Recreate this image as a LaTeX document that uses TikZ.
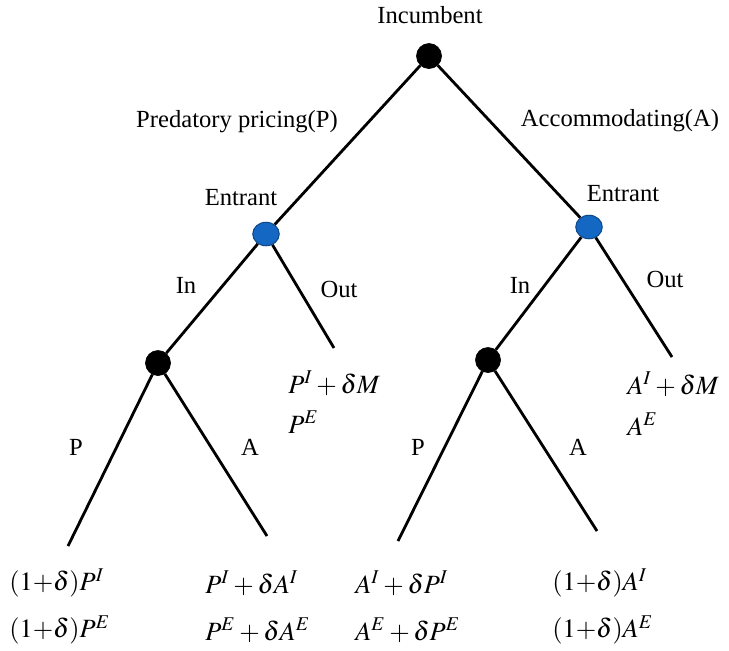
\documentclass[tikz,border=0pt]{standalone}
\usepackage{mathptmx}
\usepackage[no-math]{fontspec}
\setmainfont{Liberation Serif}
\usepackage{tikz}
\usetikzlibrary{positioning,calc,shapes.geometric}
\definecolor{EntrantBlue}{RGB}{20,104,196}
\definecolor{EdgeInk}{RGB}{0,0,0}

\begin{document}
\begin{tikzpicture}[
    x=0.02cm,y=-0.02cm,
    inc/.style={circle,fill=black,draw=black,inner sep=0pt,minimum size=0.5cm},
    ent/.style={ellipse,fill=EntrantBlue,draw=EntrantBlue!70!black,line width=0.6pt,inner sep=0pt,minimum width=0.53cm,minimum height=0.47cm},
    branch/.style={line width=1.6pt,EdgeInk},
    lab/.style={font=\fontsize{14}{16}\selectfont,inner sep=0pt},
    pay/.style={font=\fontsize{15}{17}\selectfont,inner sep=0pt,anchor=west}
  ]
    \useasboundingbox (0,0) rectangle (729,650);

    % decision nodes
    \node[inc] (I0) at (429,56) {};
    \node[ent] (EL) at (266,234) {};
    \node[ent] (ER) at (589,227) {};
    \node[inc] (IL) at (158,363) {};
    \node[inc] (IR) at (488,360) {};

    % free ends
    \coordinate (OL) at (334,348);
    \coordinate (OR) at (672,357);
    \coordinate (LLP) at (68,546);
    \coordinate (LLA) at (267,536);
    \coordinate (RRP) at (398,541);
    \coordinate (RRA) at (597,531);

    \draw[branch] (I0) -- (EL);
    \draw[branch] (I0) -- (ER);
    \draw[branch] (EL) -- (IL);
    \draw[branch] (EL) -- (OL);
    \draw[branch] (ER) -- (IR);
    \draw[branch] (ER) -- (OR);
    \draw[branch] (IL) -- (LLP);
    \draw[branch] (IL) -- (LLA);
    \draw[branch] (IR) -- (RRP);
    \draw[branch] (IR) -- (RRA);

    % player and move labels
    \node[lab] (tI0) at (430,15) {Incumbent};
    \node[lab] (tEL) at (241,198) {Entrant};
    \node[lab] (tER) at (623,194) {Entrant};
    \node[lab] (mP) at (237,122) {Predatory pricing(P)};
    \node[lab] (mA) at (620,121) {Accommodating(A)};
    \node[lab] (inL) at (186,285) {In};
    \node[lab] (outL) at (339,289) {Out};
    \node[lab] (inR) at (520,285) {In};
    \node[lab] (outR) at (665,279) {Out};
    \node[lab] (pL) at (76,447) {P};
    \node[lab] (aL) at (250,447) {A};
    \node[lab] (pR) at (418,447) {P};
    \node[lab] (aR) at (578,447) {A};

    % payoffs
    \node[pay] (pOL1) at (288,383) {$P^I+\delta M$};
    \node[pay] (pOL2) at (288,422) {$P^E$};
    \node[pay] (pOR1) at (627,384) {$A^I+\delta M$};
    \node[pay] (pOR2) at (627,424) {$A^E$};
    \node[pay] (pLP1) at (9,583) {$(1{+}\delta)P^I$};
    \node[pay] (pLP2) at (9,630) {$(1{+}\delta)P^E$};
    \node[pay] (pLA1) at (205,583) {$P^I+\delta A^I$};
    \node[pay] (pLA2) at (205,630) {$P^E+\delta A^E$};
    \node[pay] (pRP1) at (355,583) {$A^I+\delta P^I$};
    \node[pay] (pRP2) at (355,630) {$A^E+\delta P^E$};
    \node[pay] (pRA1) at (552,583) {$(1{+}\delta)A^I$};
    \node[pay] (pRA2) at (552,630) {$(1{+}\delta)A^E$};
  \end{tikzpicture}
\end{document}
